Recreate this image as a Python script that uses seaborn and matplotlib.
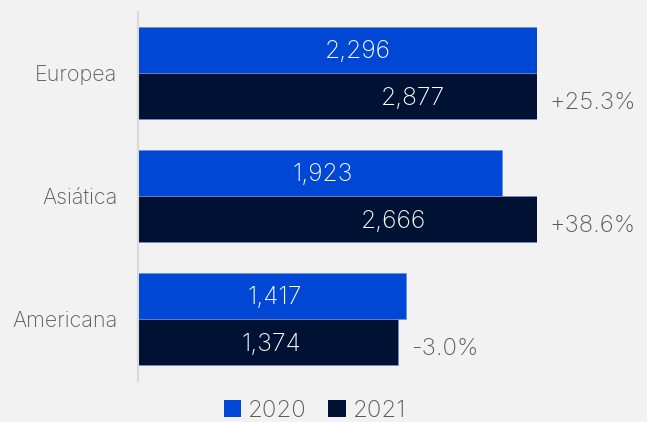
import matplotlib
matplotlib.use("Agg")
import matplotlib.pyplot as plt
from matplotlib.patches import Patch
import seaborn as sns
import pandas as pd

# Data
categories = ["Europea", "Asiática", "Americana"]
years = ["2020", "2021"]
values_2020 = [2296, 1923, 1417]
values_2021 = [2877, 2666, 1374]

colors = {"2020": "#0047d5", "2021": "#001233"}
bg = "#f2f2f2"
text_gray = "#595959"

df = pd.DataFrame({
    "region": categories * 2,
    "year": ["2020"] * len(categories) + ["2021"] * len(categories),
    "value": values_2020 + values_2021,
})

sns.set_theme(style="white")
plt.rcParams["font.family"] = ["Inter", "DejaVu Sans"]
plt.rcParams["font.weight"] = "light"

fig = plt.figure(figsize=(6.47, 4.22), dpi=100, facecolor=bg)
ax = fig.add_axes([138 / 647, 1 - 380.5 / 422, 399 / 647, 369 / 422])
ax.set_facecolor(bg)

sns.barplot(
    data=df, y="region", x="value", hue="year", order=categories,
    hue_order=years, palette=colors, orient="h", width=0.756,
    saturation=1, edgecolor="#6f8fd8", linewidth=0.5, legend=False, ax=ax,
)

# Axis stops short of the largest bars, which are clipped at the edge
xmax = 2107
ax.set_xlim(0, xmax)
ax.set_ylim(2.5, -0.5)

# Value labels at the middle of each full-length bar
for cont, vals in zip(ax.containers, [values_2020, values_2021]):
    for bar, v in zip(cont.patches, vals):
        ax.annotate(f"{v:,}", xy=(bar.get_x() + bar.get_width() / 2,
                                  bar.get_y() + bar.get_height() / 2),
                    xytext=(2, -1.5), textcoords="offset points",
                    ha="center", va="center", color="white",
                    fontsize=17.8, fontweight="light")

# Year-over-year change next to the 2021 bars
for i, (a, b) in enumerate(zip(values_2020, values_2021)):
    pct = (b / a - 1) * 100
    ax.annotate(f"{pct:+.1f}%", xy=(min(b, xmax), i + 0.756 / 4),
                xytext=(9, -5), textcoords="offset points",
                ha="left", va="center", fontsize=17.2, color=text_gray,
                fontweight="light", annotation_clip=False)

ax.set_xlabel("")
ax.set_ylabel("")
ax.set_xticks([])
ax.tick_params(axis="y", length=0, pad=15, labelsize=15.5, labelcolor=text_gray)
for lbl in ax.get_yticklabels():
    lbl.set_fontweight("light")

for side in ["top", "right", "bottom"]:
    ax.spines[side].set_visible(False)
ax.spines["left"].set_color("#d9d9d9")
ax.spines["left"].set_linewidth(1.5)

handles = [Patch(facecolor=colors[y], edgecolor="none") for y in years]
fig.legend(handles, years, loc="center", bbox_to_anchor=(315 / 647, 1 - 411 / 422),
           ncol=2, frameon=False, labelcolor=text_gray,
           handlelength=0.72, handleheight=0.72, handletextpad=0.3,
           columnspacing=0.9, borderpad=0, prop={"weight": "light", "size": 17.2})

fig.savefig("out.png", dpi=100, facecolor=bg)
